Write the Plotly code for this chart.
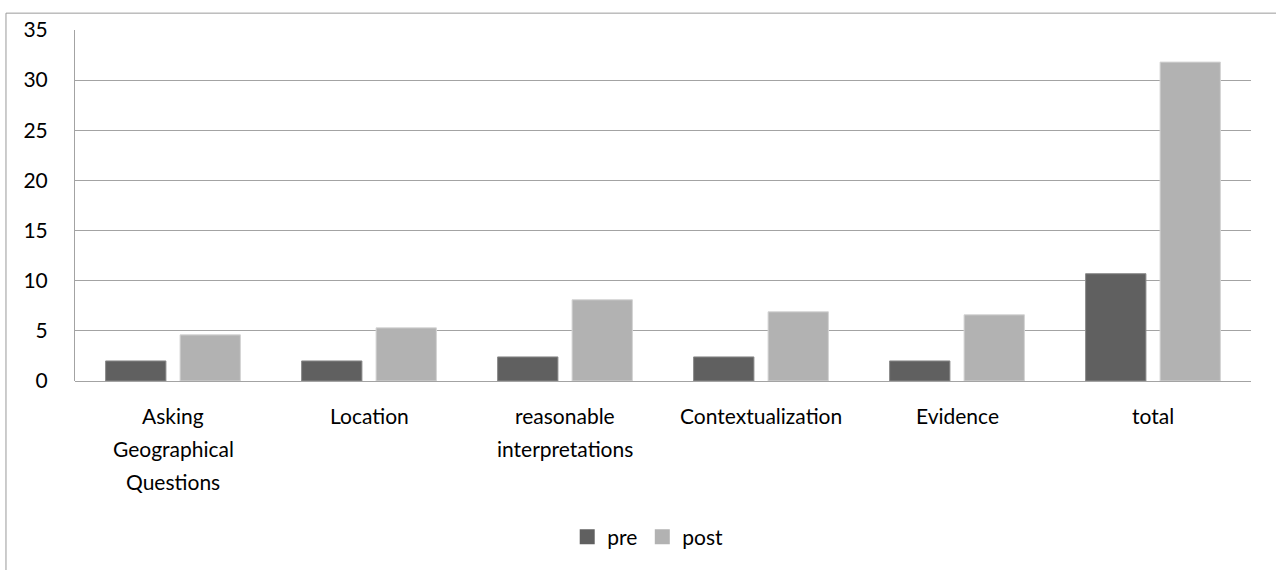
import plotly.graph_objects as go

# Scores before and after, per skill
categories = ["Asking Geographical Questions", "Location", "reasonable interpretations",
              "Contextualization", "Evidence", "total"]
label_lines = [["Asking", "Geographical", "Questions"], ["Location"],
               ["reasonable", "interpretations"], ["Contextualization"], ["Evidence"], ["total"]]
series_names = ["pre", "post"]
pre = [2.0, 2.0, 2.4, 2.4, 2.0, 10.7]
post = [4.6, 5.3, 8.1, 6.9, 6.6, 31.8]
y_ticks = [0, 5, 10, 15, 20, 25, 30, 35]

FONT = "Lato"
FSIZE = 21
GRID = "#a3a3a3"
COLORS = ["#606060", "#b2b2b2"]
EDGES = ["#8a8a8a", "#d4d4d4"]

fig = go.Figure()
for name, vals, col, edge in zip(series_names, [pre, post], COLORS, EDGES):
    fig.add_trace(go.Bar(name=name, x=categories, y=vals, showlegend=False,
                         marker=dict(color=col, line=dict(color=edge, width=1))))
# Legend entries with larger square swatches
for name, col in zip(series_names, COLORS):
    fig.add_trace(go.Scatter(name=name, x=[None], y=[None], mode="markers",
                             marker=dict(symbol="square", size=15, color=col)))

# Category labels drawn line by line for wider line spacing
annotations = []
for cat, lines in zip(categories, label_lines):
    for i, line in enumerate(lines):
        annotations.append(dict(x=cat, xref="x", y=0, yref="paper", text=line,
                                showarrow=False, yanchor="middle",
                                yshift=-34 - 33 * i,
                                font=dict(family=FONT, size=FSIZE, color="#000000")))

fig.update_layout(
    width=1276, height=570,
    margin=dict(l=75, r=25, t=30, b=189),
    paper_bgcolor="white", plot_bgcolor="white",
    barmode="group", bargap=0.24, bargroupgap=0.19,
    font=dict(family=FONT, size=FSIZE, color="#000000"),
    showlegend=True,
    legend=dict(orientation="h", x=0.487, xanchor="center", y=-0.445, yanchor="middle",
                font=dict(family=FONT, size=FSIZE), itemwidth=30, traceorder="normal"),
    annotations=annotations,
    shapes=[dict(type="rect", xref="paper", yref="paper",
                 x0=-0.0587, x1=1.03, y0=-0.56, y1=1.048,
                 line=dict(color="#9a9a9a", width=1), layer="below")],
)
fig.update_xaxes(showticklabels=False, showgrid=False, showline=False, zeroline=False)
fig.update_yaxes(range=[0, 35], tickvals=y_ticks, showgrid=True, gridcolor=GRID, gridwidth=1,
                 showline=True, linecolor=GRID, linewidth=1, zeroline=True,
                 zerolinecolor=GRID, zerolinewidth=1, ticks="", ticklabelstandoff=22,
                 tickfont=dict(family=FONT, size=FSIZE))

fig.write_html("out.html")
